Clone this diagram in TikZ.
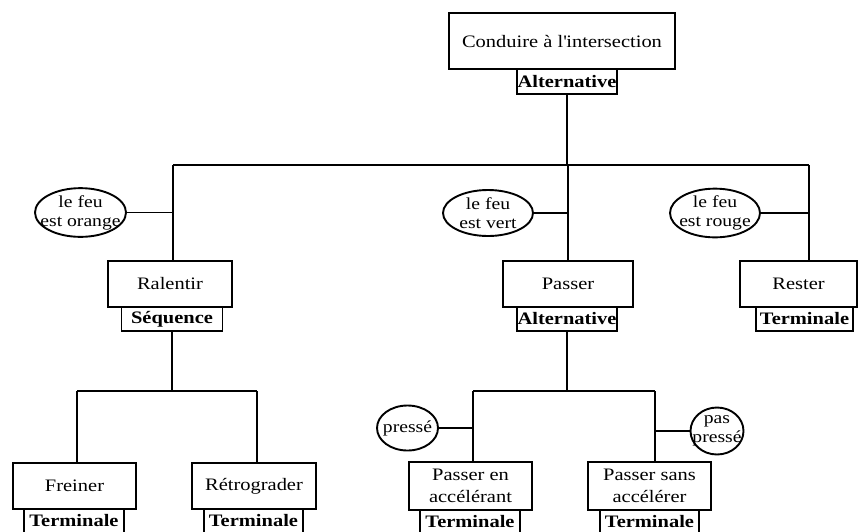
\documentclass[tikz,border=0pt]{standalone}
\usepackage{fontspec}
\setmainfont{Liberation Serif}[FakeStretch=1.17]
\usepackage{tikz}
\usetikzlibrary{shapes.geometric}

\begin{document}
\begin{tikzpicture}[x=1pt, y=-1pt, line width=1.9pt,
    task/.style={draw, rectangle, inner sep=0pt, align=center, minimum height=46pt,
        font=\fontsize{17.5}{22.5}\selectfont},
    tag/.style={draw, rectangle, inner sep=0pt, minimum height=24pt,
        font=\fontsize{17.5}{20}\selectfont\bfseries},
    cond/.style={draw, ellipse, inner sep=0pt, align=center,
        font=\fontsize{16.8}{19}\selectfont}]
    \useasboundingbox (0,0) rectangle (858,531);

    % ===== Root =====
    \node[task, minimum width=226pt, minimum height=56pt] (root) at (562,41) {Conduire à l\textquotesingle intersection};
    \node[tag, minimum width=100pt, minimum height=25pt] (rootTag) at (567,81.5) {Alternative};

    % ===== Level 1 =====
    \node[task, minimum width=124pt] (ralentir) at (170,284) {Ralentir};
    \node[tag, minimum width=101pt] (ralentirTag) at (172,319) {Séquence};
    \node[task, minimum width=130pt] (passer) at (568,284) {Passer};
    \node[tag, minimum width=100pt] (passerTag) at (567,319) {Alternative};
    \node[task, minimum width=117pt] (rester) at (798.5,284) {Rester};
    \node[tag, minimum width=97pt] (resterTag) at (804.5,319) {Terminale};

    % conditions
    \node[cond, minimum width=91pt, minimum height=47pt] (orange) at (80.5,212.5)
        {\makebox[0pt]{le feu}\\\makebox[0pt]{est orange}};
    \node[cond, minimum width=90pt, minimum height=46pt] (vert) at (488,213)
        {\makebox[0pt]{le feu}\\\makebox[0pt]{est vert}};
    \node[cond, minimum width=90pt, minimum height=46pt] (rouge) at (715,213)
        {\makebox[0pt]{le feu}\\\makebox[0pt]{est rouge}};

    % ===== Level 2 =====
    \node[task, minimum width=123pt] (freiner) at (74.5,486) {Freiner};
    \node[tag, minimum width=100pt] (freinerTag) at (74,521) {Terminale};
    \node[task, minimum width=124pt] (retro) at (254,486) {Rétrograder};
    \node[tag, minimum width=99pt] (retroTag) at (253.5,521) {Terminale};
    \node[task, minimum width=123pt, minimum height=48pt] (accel) at (470.5,486) {Passer en\\accélérant};
    \node[tag, minimum width=100pt] (accelTag) at (470,522) {Terminale};
    \node[task, minimum width=123pt, minimum height=48pt] (sansAccel) at (649.5,486) {Passer sans\\accélérer};
    \node[tag, minimum width=99pt] (sansAccelTag) at (649.5,522) {Terminale};

    \node[cond, minimum width=61pt, minimum height=45pt] (presse) at (407.5,428) {\makebox[0pt]{pressé}};
    \node[cond, minimum width=53pt, minimum height=47pt] (pasPresse) at (717,431)
        {\makebox[0pt]{pas}\\\makebox[0pt]{pressé}};

    % ===== Connectors =====
    \coordinate (busL) at (173,165);
    \coordinate (busM) at (568,165);
    \coordinate (busR) at (809,165);
    \draw (rootTag.south) -- (rootTag.south |- busM);
    \draw (busL) -- (busR);
    \draw (busL) -- (busL |- ralentir.north);
    \draw (busM) -- (busM |- passer.north);
    \draw (busR) -- (busR |- rester.north);
    \draw (orange.east) -- (orange.east -| busL);
    \draw (vert.east) -- (vert.east -| busM);
    \draw (rouge.east) -- (rouge.east -| busR);

    % Ralentir branch
    \coordinate (subA) at (77,391);
    \coordinate (subB) at (257,391);
    \draw (ralentirTag.south) -- (ralentirTag.south |- subA);
    \draw (subA) -- (subB);
    \draw (subA) -- (subA |- freiner.north);
    \draw (subB) -- (subB |- retro.north);

    % Passer branch
    \coordinate (subC) at (473,391);
    \coordinate (subD) at (655,391);
    \draw (passerTag.south) -- (passerTag.south |- subC);
    \draw (subC) -- (subD);
    \draw (subC) -- (subC |- accel.north);
    \draw (subD) -- (subD |- sansAccel.north);
    \draw (presse.east) -- (presse.east -| subC);
    \draw (pasPresse.west) -- (pasPresse.west -| subD);
\end{tikzpicture}
\end{document}
